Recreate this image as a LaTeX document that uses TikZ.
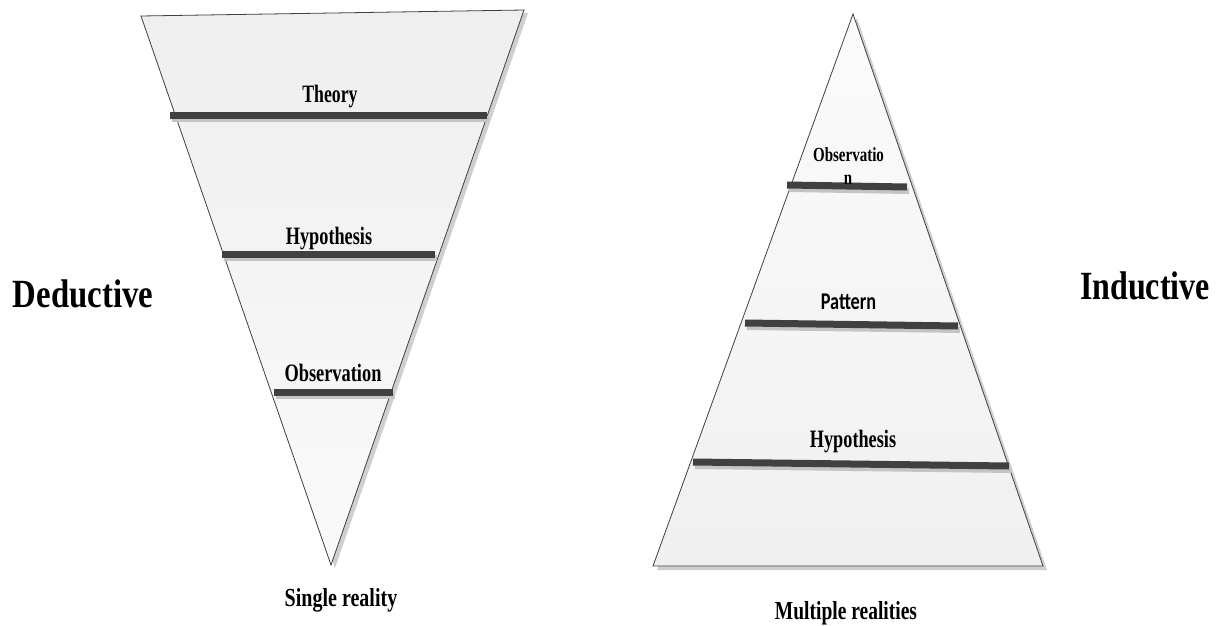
\documentclass[tikz,border=0pt]{standalone}
\usepackage{fontspec}
\usepackage{graphicx}
\setmainfont{Liberation Serif}
\newfontfamily\patfont{Carlito}
\definecolor{edgegray}{HTML}{404040}
\definecolor{barcol}{HTML}{404040}
\definecolor{shadowcol}{HTML}{CFCFCF}
\definecolor{barshadow}{HTML}{C4C4C4}
% bold, horizontally condensed label text: size, x-scale, text
\newcommand\lbl[3]{{\fontsize{#1}{#1}\selectfont\bfseries\scalebox{#2}[1]{#3}}}
\begin{document}
\begin{tikzpicture}[x=1pt,y=-1pt,
  cone/.style={draw=edgegray,line width=0.8pt,line join=miter},
  level/.style={draw=barcol,line width=7pt},
  levelshadow/.style={draw=barshadow,line width=6pt},
  txt/.style={anchor=base,inner sep=0pt,outer sep=0pt}]
\useasboundingbox (0,0) rectangle (1223,626);
\fill[white] (0,0) rectangle (1223,626);

% ---- deductive funnel (inverted triangle)
\coordinate (LA) at (141,16);
\coordinate (LB) at (524,10);
\coordinate (LC) at (331,565);
\fill[shadowcol] ([shift={(4,3)}]LA) -- ([shift={(4,3)}]LB) -- ([shift={(4,3)}]LC) -- cycle;
\shade[top color=gray!13,bottom color=gray!4] (LA) -- (LB) -- (LC) -- cycle;
\draw[cone] (LA) -- (LB) -- (LC) -- cycle;

\coordinate (t1) at (170,115);  \coordinate (t2) at (487,115);
\coordinate (h1) at (222,254);  \coordinate (h2) at (435,254);
\coordinate (o1) at (274,392);  \coordinate (o2) at (393,392);
\foreach \a/\b in {t1/t2,h1/h2,o1/o2}{
  \draw[levelshadow] ([shift={(2,4)}]\a) -- ([shift={(2,4)}]\b);
  \draw[level] (\a) -- (\b);
}
\node[txt] (theory) at (330,102) {\lbl{25}{0.71}{Theory}};
\node[txt] (hypL) at (329,244) {\lbl{25}{0.73}{Hypothesis}};
\node[txt] (obsL) at (333,381) {\lbl{25}{0.735}{Observation}};

% ---- inductive pyramid
\coordinate (RA) at (853,14);
\coordinate (RB) at (653,566);
\coordinate (RC) at (1043,566);
\fill[shadowcol] ([shift={(4,4)}]RA) -- ([shift={(4,4)}]RB) -- ([shift={(4,4)}]RC) -- cycle;
\shade[top color=gray!3,bottom color=gray!12] (RA) -- (RB) -- (RC) -- cycle;
\draw[cone] (RA) -- (RB) -- (RC) -- cycle;

\coordinate (p1) at (787,185);  \coordinate (p2) at (907,187);
\coordinate (q1) at (745,323);  \coordinate (q2) at (958,326);
\coordinate (r1) at (693,462);  \coordinate (r2) at (1009,466);
\foreach \a/\b in {p1/p2,q1/q2,r1/r2}{
  \draw[levelshadow] ([shift={(2,4)}]\a) -- ([shift={(2,4)}]\b);
  \draw[level] (\a) -- (\b);
}
\node[txt] (obsR) at (848.5,161) {\lbl{20}{0.75}{Observatio}};
\node[txt] (obsRn) at (848,184) {\lbl{20}{0.75}{n}};
\node[txt] (pattern) at (848.5,309) {{\patfont\fontsize{24}{24}\selectfont\bfseries\scalebox{0.76}[1]{Pattern}}};
\node[txt] (hypR) at (853,447) {\lbl{25}{0.73}{Hypothesis}};

% ---- side and bottom captions
\node[txt] (ded) at (83,307) {\lbl{40}{0.82}{Deductive}};
\node[txt] (ind) at (1145,299) {\lbl{40}{0.80}{Inductive}};
\node[txt] (single) at (341,606) {\lbl{26}{0.77}{Single reality}};
\node[txt] (multi) at (846,619) {\lbl{26}{0.75}{Multiple realities}};
\end{tikzpicture}
\end{document}
